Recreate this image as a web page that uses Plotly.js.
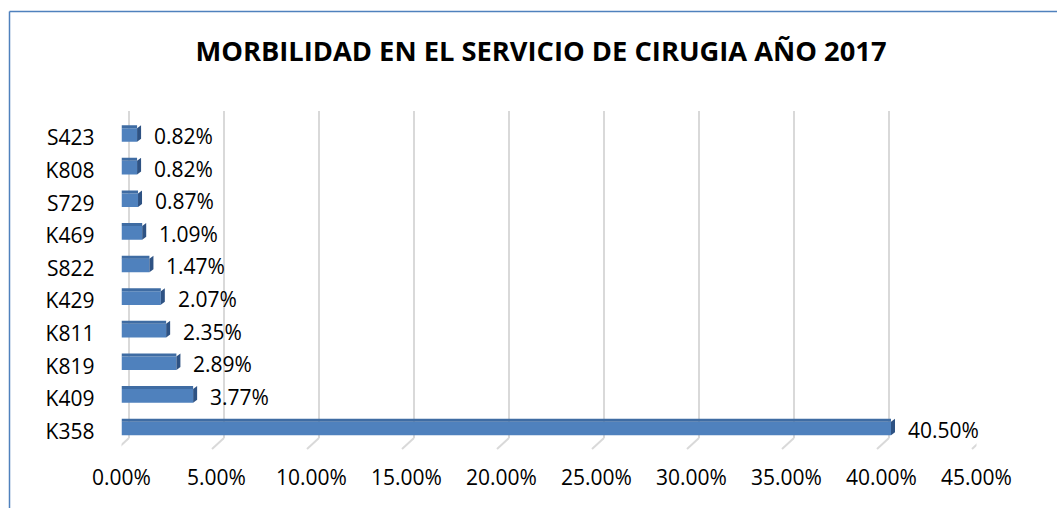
<!DOCTYPE html>
<html>
<head>
<meta charset="utf-8">
<script src="https://cdn.plot.ly/plotly-3.0.1.min.js"></script>
<style>html,body{margin:0;padding:0;background:#fff;}#chart{width:1057px;height:508px;}</style>
</head>
<body>
<div id="chart"></div>
<script>
const categories = ['K358','K409','K819','K811','K429','S822','K469','S729','K808','S423'];
const values = [40.50, 3.77, 2.89, 2.35, 2.07, 1.47, 1.09, 0.87, 0.82, 0.82];
const tickValues = [0, 5, 10, 15, 20, 25, 30, 35, 40, 45];
const tickLabels = ['0.00%','5.00%','10.00%','15.00%','20.00%','25.00%','30.00%','35.00%','40.00%','45.00%'];
const titleText = 'MORBILIDAD EN EL SERVICIO DE CIRUGIA AÑO 2017';

const W = 1057, H = 508;
const FONT = 'Open Sans';
const py = p => 1 - p / H;

const shapes = [];
// back-wall gridlines and floor diagonals
tickValues.forEach(v => {
  shapes.push({type:'line', layer:'below', xref:'x', xsizemode:'pixel', xanchor:v, x0:7.5, x1:7.5,
    yref:'paper', y0:py(438), y1:py(111), line:{color:'#d9d9d9', width:2}});
  shapes.push({type:'line', layer:'below', xref:'x', xsizemode:'pixel', xanchor:v, x0:7.5, x1:-4.5,
    yref:'paper', y0:py(438), y1:py(449), line:{color:'#d9d9d9', width:2}});
});
// 3D faces of bars
const h = 6.8, d = 4, dy = 3;
values.forEach((v, i) => {
  shapes.push({type:'rect', layer:'above', xref:'x', x0:0, x1:v, yref:'y', ysizemode:'pixel', yanchor:i,
    y0:h, y1:h+dy, fillcolor:'#3f6ca3', line:{width:0}});
  shapes.push({type:'path', layer:'above', xref:'x', xsizemode:'pixel', xanchor:v, yref:'y', ysizemode:'pixel', yanchor:i,
    path:`M0,${-h} L0,${h} L${d},${h+dy} L${d},${-h+dy} Z`, fillcolor:'#2e5283', line:{width:0}});
});
// border
shapes.push({type:'line', xref:'paper', yref:'paper', x0:9.5/W, x1:1, y0:py(11.5), y1:py(11.5), line:{color:'#4f81bd', width:1.5}});
shapes.push({type:'line', xref:'paper', yref:'paper', x0:9.5/W, x1:9.5/W, y0:py(11.5), y1:0, line:{color:'#4f81bd', width:1.5}});

const annotations = values.map((v, i) => ({
  x: v, y: categories[i], xref:'x', yref:'y', text: v.toFixed(2) + '%', showarrow:false,
  xanchor:'left', yanchor:'middle', xshift:15, yshift:-1,
  font:{family:FONT, size:21, color:'#000'}
}));

const data = [{
  type:'bar', orientation:'h', x: values, y: categories, width:0.42,
  marker:{color:'#4f81bd', line:{width:0}}, hoverinfo:'none'
}];

const layout = {
  width: W, height: H,
  margin:{l:0, r:0, t:0, b:0},
  paper_bgcolor:'#fff', plot_bgcolor:'rgba(0,0,0,0)',
  showlegend:false,
  title:{text:'<b>' + titleText + '</b>', x:541/W, xanchor:'center', y:py(51), yanchor:'middle',
    font:{family:FONT, size:27.3, color:'#000'}},
  xaxis:{domain:[121.5/W, 976.5/W], range:[0,45], tickvals:tickValues, ticktext:tickLabels,
    showgrid:false, zeroline:false, showline:false, ticks:'', ticklabelshift:-4.5, ticklabelstandoff:18,
    tickfont:{family:FONT, size:21, color:'#000'}},
  yaxis:{domain:[py(444.8), py(118.7)], type:'category', range:[-0.5, 9.5], categoryorder:'array', categoryarray:categories,
    showgrid:false, zeroline:false, showline:false, ticks:'', ticklabelstandoff:26, ticklabelshift:3,
    tickfont:{family:FONT, size:21, color:'#000'}},
  shapes: shapes,
  annotations: annotations
};

Plotly.newPlot('chart', data, layout, {displayModeBar:false, staticPlot:true});
</script>
</body>
</html>
